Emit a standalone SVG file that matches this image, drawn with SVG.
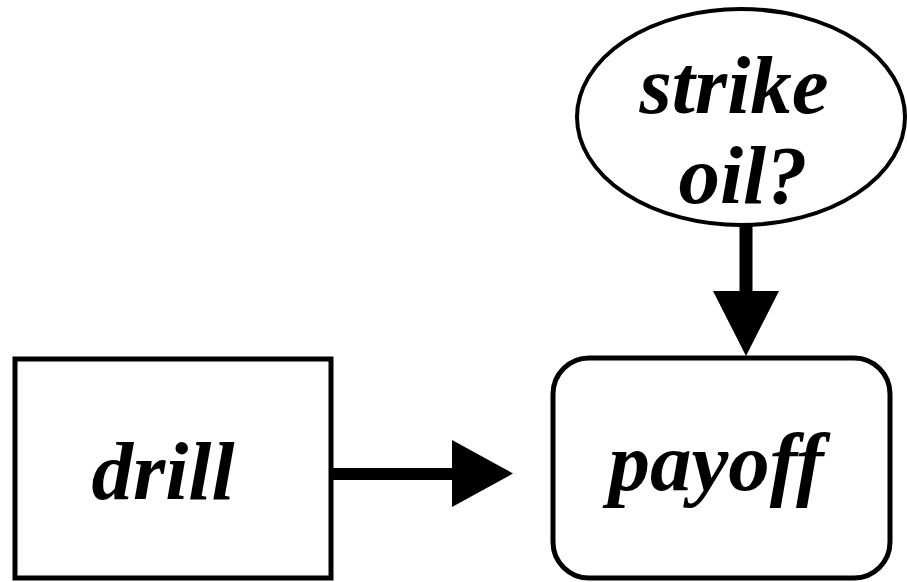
<svg xmlns="http://www.w3.org/2000/svg" width="907" height="582" viewBox="0 0 907 582">
<style>
.lbl{font-family:"Liberation Serif","Times New Roman",serif;font-weight:bold;font-style:italic;font-size:83px;fill:#000;text-anchor:middle}
.shape{fill:#fff;stroke:#000}
.wire{stroke:#000;fill:none}
.head{fill:#000;stroke:none}
</style>
<rect width="907" height="582" fill="#fff"/>
<g id="strike-oil">
<ellipse class="shape" cx="741" cy="117" rx="164" ry="108" stroke-width="4"/>
<text class="lbl" x="734" y="113">strike</text>
<text class="lbl" x="743" y="203">oil?</text>
</g>
<g id="drill">
<rect class="shape" x="15" y="359" width="316" height="219" stroke-width="5"/>
<text class="lbl" x="163" y="499">drill</text>
</g>
<g id="payoff">
<rect class="shape" x="553" y="358" width="337" height="220" rx="36" ry="36" stroke-width="5"/>
<text class="lbl" x="716" y="490">payoff</text>
</g>
<g id="connectors">
<line class="wire" x1="331" y1="474" x2="454" y2="474" stroke-width="12"/>
<path class="head" d="M452,440 L513,473.5 L452,507 Z"/>
<line class="wire" x1="746" y1="224" x2="746" y2="293" stroke-width="13"/>
<path class="head" d="M713,291 L779,291 L746,356 Z"/>
</g>
</svg>
